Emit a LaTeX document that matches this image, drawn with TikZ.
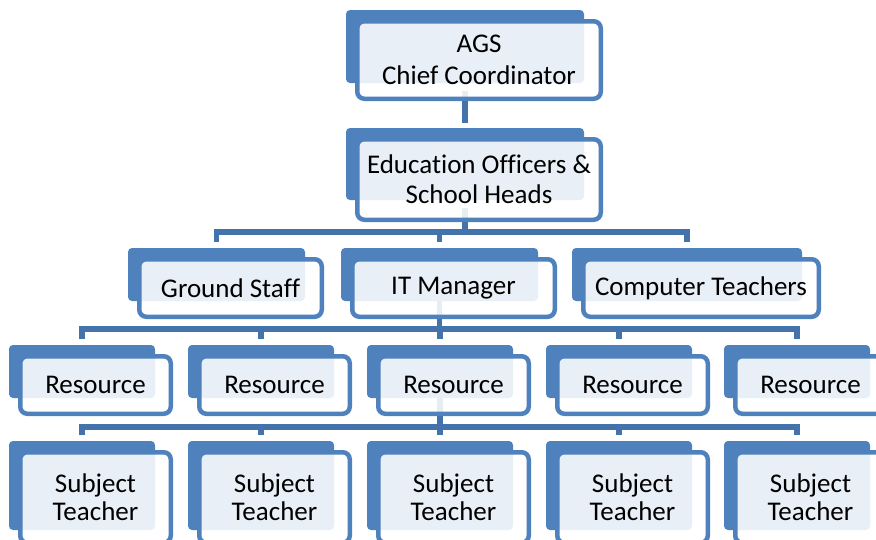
\documentclass[tikz,border=0pt]{standalone}
\usepackage{fontspec}
\setmainfont{Carlito}[Ligatures=NoCommon]
\usetikzlibrary{calc}
\definecolor{boxblue}{RGB}{79,129,189}
\definecolor{linkblue}{RGB}{68,114,170}
\pgfdeclarelayer{bg}
\pgfsetlayers{bg,main}
\tikzset{
 backbox/.style={fill=boxblue, draw=none, rounded corners=4pt, inner sep=0pt, outer sep=0pt},
 frontbox/.style={draw=boxblue, line width=4.5pt, fill=white, fill opacity=0.88, text opacity=1,
   rounded corners=7pt, inner sep=0pt, outer sep=0pt, align=center,
   font=\fontsize{27}{30}\selectfont, text=black},
 conn/.style={draw=linkblue, line width=5.5pt},
}
% name, back left, back top, back right, back bottom, front right, front bottom, text
\newcommand\obox[8]{%
 \node[backbox, minimum width={(#4)-(#2)}, minimum height={(#5)-(#3)}] (#1-b)
   at ({((#2)+(#4))/2},{((#3)+(#5))/2}) {};
 \node[frontbox, minimum width={(#6)-(#2)-9-4.5}, minimum height={(#7)-(#3)-9-4.5}] (#1)
   at ({((#2)+9+(#6))/2},{((#3)+9+(#7))/2}) {#8};
}
\begin{document}
\begin{tikzpicture}[x=1pt,y=-1pt]
\useasboundingbox (0,0) rectangle (876,539);
\clip (0,0) rectangle (876,539);
\obox{top}{346}{10}{584}{83}{603}{101}{AGS\\[2pt]Chief Coordinator}
\obox{edu}{346}{128}{584}{200}{603}{222}{Education Officers \&\\School Heads}
\obox{gs}{128}{248}{305}{301}{324}{319}{Ground Staff}
\obox{it}{341}{248}{538}{301}{557}{319}{IT Manager}
\obox{ct}{572}{248}{802}{301}{821}{319}{Computer Teachers}
\foreach \i/\L in {1/9,2/188,3/367,4/546,5/724}{
  \obox{res\i}{\L}{345}{\L+146}{398}{\L+164}{416}{Resource}
  \obox{st\i}{\L}{441}{\L+146}{530}{\L+164}{545}{Subject\\[-2pt]Teacher}
}
\begin{pgfonlayer}{bg}
\coordinate (bus1) at (0,232);
\coordinate (bus2) at (0,329);
\coordinate (bus3) at (0,427);
\draw[conn] ($(top-b.south)+(0,8)$) -- ($(edu-b.north)+(0,-5)$);
\draw[conn] ($(edu-b.south)+(0,8)$) -- (edu-b.south |- bus1);
\draw[conn] ($(gs-b.north)+(0,-6)$) -- (gs-b.north |- bus1) -- (ct-b.north |- bus1) -- ($(ct-b.north)+(0,-6)$);
\draw[conn] (it-b.north |- bus1) -- ($(it-b.north)+(0,-6)$);
\draw[conn] (it-b.south) -- (it-b.south |- bus2);
\draw[conn] ($(res1-b.north)+(0,-6)$) -- (res1-b.north |- bus2) -- (res5-b.north |- bus2) -- ($(res5-b.north)+(0,-6)$);
\foreach \i in {2,3,4}{
  \draw[conn] (res\i-b.north |- bus2) -- ($(res\i-b.north)+(0,-6)$);
}
\draw[conn] (res3-b.south) -- (res3-b.south |- bus3);
\draw[conn] ($(st1-b.north)+(0,-6)$) -- (st1-b.north |- bus3) -- (st5-b.north |- bus3) -- ($(st5-b.north)+(0,-6)$);
\foreach \i in {2,3,4}{
  \draw[conn] (st\i-b.north |- bus3) -- ($(st\i-b.north)+(0,-6)$);
}
\end{pgfonlayer}
\end{tikzpicture}
\end{document}
